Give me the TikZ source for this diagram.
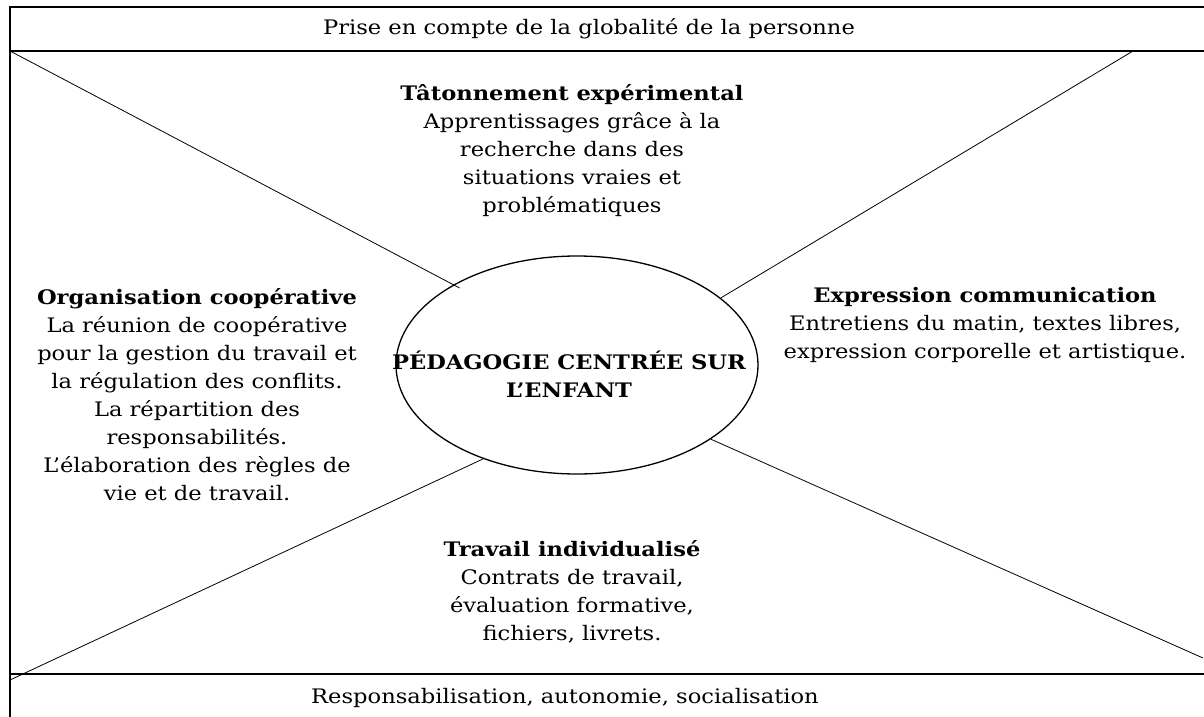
\documentclass[tikz,border=0pt]{standalone}
\usepackage{fontspec}
\setmainfont{DejaVu Serif}[FakeStretch=1.13]
\usetikzlibrary{shapes.geometric}
\begin{document}
\begin{tikzpicture}[x=1pt,y=-1pt,
  frame/.style={line width=1.3pt},
  ray/.style={line width=0.8pt},
  txt/.style={align=center,inner sep=0pt,font=\fontsize{20}{28}\selectfont},
  centre/.style={ellipse,draw,line width=1.3pt,minimum width=362pt,minimum height=218pt,inner sep=0pt}]
\useasboundingbox (0,0) rectangle (1204,717);
% frame
\draw[frame] (1204,7) -- (10,7) -- (10,717);
\draw[frame] (10,51) -- (1204,51);
\draw[frame] (10,674) -- (1204,674);
% centre
\node[centre] (e) at (577,365) {};
\node[txt,font=\fontsize{20}{28}\selectfont\bfseries] (etext) at (569,374) {PÉDAGOGIE CENTRÉE SUR\\L’ENFANT};
% corner points
\coordinate (tl) at (10,51);
\coordinate (tr) at (1133,51);
\coordinate (bl) at (10,680);
\coordinate (br) at (1203,658);
\draw[ray,shorten >=-7pt] (tl) -- (e.147);
\draw[ray] (tr) -- (e.25.7);
\draw[ray] (bl) -- (e.225);
\draw[ray] (br) -- (e.331.7);
% texts
\node[txt] (top) at (589,29) {Prise en compte de la globalité de la personne};
\node[txt] (bottom) at (565,698) {Responsabilisation, autonomie, socialisation};
\node[txt] (tat) at (572,151) {\textbf{Tâtonnement expérimental}\\Apprentissages grâce à la\\recherche dans des\\situations vraies et\\problématiques};
\node[txt] (org) at (197,395) {\textbf{Organisation coopérative}\\La réunion de coopérative\\pour la gestion du travail et\\la régulation des conflits.\\La répartition des\\responsabilités.\\L’élaboration des règles de\\vie et de travail.};
\node[txt] (expr) at (985,325) {\textbf{Expression communication}\\Entretiens du matin, textes libres,\\expression corporelle et artistique.};
\node[txt] (trav) at (572,592) {\textbf{Travail individualisé}\\Contrats de travail,\\évaluation formative,\\fichiers, livrets.};
\end{tikzpicture}
\end{document}
